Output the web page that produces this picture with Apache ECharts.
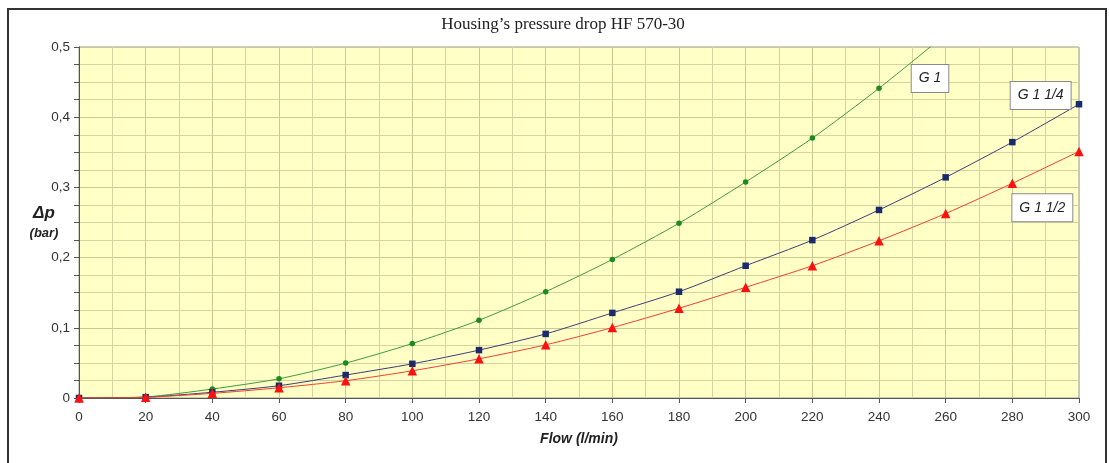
<!DOCTYPE html>
<html>
<head>
<meta charset="utf-8">
<script src="https://cdn.jsdelivr.net/npm/echarts@6/dist/echarts.min.js"></script>
<style>
  html, body { margin: 0; padding: 0; background: #ffffff; }
  #chart { width: 1109px; height: 463px; }
</style>
</head>
<body>
<div id="chart"></div>
<script>
// Flow rates (l/min)
const flow = [0, 20, 40, 60, 80, 100, 120, 140, 160, 180, 200, 220, 240, 260, 280, 300];

// Pressure drop (bar) per port size
const g1 = [0, 0.0015, 0.0128, 0.0274, 0.0497, 0.0776, 0.1108, 0.1514, 0.1974, 0.249, 0.3077, 0.3702, 0.4412, 0.518];
const g114 = [0, 0.0012, 0.0082, 0.0175, 0.0327, 0.0487, 0.0682, 0.0913, 0.1212, 0.1514, 0.1884, 0.2249, 0.2679, 0.3143, 0.3645, 0.4185];
const g112 = [0, 0.0010, 0.0066, 0.0146, 0.0246, 0.0388, 0.0558, 0.0757, 0.1003, 0.1278, 0.1577, 0.1884, 0.2239, 0.2628, 0.3058, 0.3513];

const seriesNames = ['G 1', 'G 1 1/4', 'G 1 1/2'];
// Where each series name tag sits, in (flow, Δp) units
const tagAt = [[255.3, 0.455], [288.5, 0.431], [289, 0.271]];

const title = 'Housing\u2019s pressure drop HF 570-30';
const xName = 'Flow (l/min)';

function pairs(ys) { return ys.map((v, i) => [flow[i], v]); }

const tagLabel = {
  show: true,
  formatter: '{b}',
  color: '#222',
  fontFamily: 'Liberation Sans, Arial, sans-serif',
  fontStyle: 'italic',
  fontSize: 14,
  backgroundColor: '#ffffff',
  borderColor: '#8a8a8a',
  borderWidth: 1,
  padding: [7, 7, 6, 7],
  position: 'inside'
};

function tag(i) {
  return {
    symbol: 'rect',
    symbolSize: 1,
    silent: true,
    itemStyle: { color: 'rgba(0,0,0,0)' },
    label: tagLabel,
    data: [{ name: seriesNames[i], coord: tagAt[i] }]
  };
}

const chart = echarts.init(document.getElementById('chart'), null, { renderer: 'canvas' });

chart.setOption({
  animation: false,
  backgroundColor: '#ffffff',
  title: {
    text: title,
    left: 558,
    textAlign: 'center',
    top: 11,
    textStyle: {
      fontFamily: 'Liberation Serif, Times New Roman, serif',
      fontWeight: 'normal',
      fontSize: 17,
      color: '#222'
    }
  },
  grid: {
    left: 79, right: 30, top: 47, bottom: 65,
    show: true,
    backgroundColor: '#ffffc6',
    borderColor: '#9a9a9a',
    borderWidth: 1
  },
  xAxis: {
    type: 'value',
    min: 0, max: 300, interval: 20,
    axisLine: { show: true, onZero: false, lineStyle: { color: '#555', width: 1 } },
    axisTick: { show: true, inside: false, length: 5, lineStyle: { color: '#555' } },
    minorTick: { show: false, splitNumber: 2 },
    minorSplitLine: { show: true, lineStyle: { color: '#d4d4a0', width: 1 } },
    splitLine: { show: true, lineStyle: { color: '#caca94', width: 1 } },
    axisLabel: {
      color: '#333', fontSize: 13.5, margin: 12,
      fontFamily: 'Liberation Sans, Arial, sans-serif'
    }
  },
  yAxis: {
    type: 'value',
    min: 0, max: 0.5, interval: 0.1,
    axisLine: { show: true, onZero: false, lineStyle: { color: '#555', width: 1 } },
    axisTick: { show: true, inside: false, length: 5, lineStyle: { color: '#555' } },
    minorTick: { show: true, splitNumber: 4, length: 5, lineStyle: { color: '#555' } },
    minorSplitLine: { show: true, lineStyle: { color: '#d4d4a0', width: 1 } },
    splitLine: { show: true, lineStyle: { color: '#caca94', width: 1 } },
    axisLabel: {
      color: '#333', fontSize: 13.5, margin: 9,
      fontFamily: 'Liberation Sans, Arial, sans-serif',
      formatter: v => (v === 0 ? '0' : v.toFixed(1).replace('.', ','))
    }
  },
  graphic: [
    {
      type: 'rect', silent: true, z: 100,
      shape: { x: 8, y: 9, width: 1098, height: 470 },
      style: { fill: 'none', stroke: '#333', lineWidth: 2 }
    },
    {
      type: 'text', z: 100,
      style: {
        text: xName,
        x: 579, y: 439, textAlign: 'center', textVerticalAlign: 'middle',
        font: 'italic bold 14px "Liberation Sans", Arial, sans-serif',
        fill: '#222'
      }
    },
    {
      type: 'text', z: 100,
      style: {
        text: '\u0394p', x: 44, y: 213, textAlign: 'center', textVerticalAlign: 'middle',
        font: 'italic bold 17px "Liberation Sans", Arial, sans-serif',
        fill: '#222'
      }
    },
    {
      type: 'text', z: 100,
      style: {
        text: '(bar)', x: 44, y: 233, textAlign: 'center', textVerticalAlign: 'middle',
        font: 'italic bold 13px "Liberation Sans", Arial, sans-serif',
        fill: '#222'
      }
    }
  ],
  series: [
    {
      name: seriesNames[0], type: 'line', data: pairs(g1), smooth: 0.25, clip: true,
      symbol: 'circle', symbolSize: 5.5, z: 3,
      lineStyle: { color: '#3f9a3f', width: 1 },
      itemStyle: { color: '#1c8a1c' },
      markPoint: tag(0)
    },
    {
      name: seriesNames[1], type: 'line', data: pairs(g114), smooth: 0.25, clip: true,
      symbol: 'rect', symbolSize: 6.5, z: 4,
      lineStyle: { color: '#3c3c7a', width: 1 },
      itemStyle: { color: '#1a2b6b' },
      markPoint: tag(1)
    },
    {
      name: seriesNames[2], type: 'line', data: pairs(g112), smooth: 0.25, clip: true,
      symbol: 'triangle', symbolSize: 9.5, z: 5,
      lineStyle: { color: '#f2402e', width: 1 },
      itemStyle: { color: '#ff1010' },
      markPoint: tag(2)
    }
  ]
});
</script>
</body>
</html>
